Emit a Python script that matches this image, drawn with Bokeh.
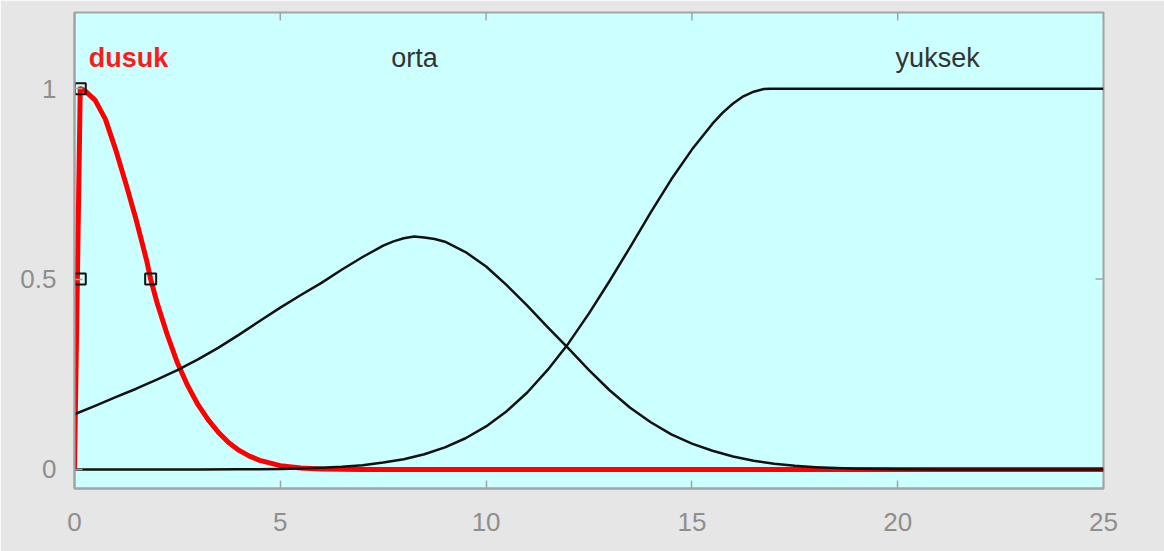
from bokeh.plotting import figure
from bokeh.models import Range1d, LinearAxis, FixedTicker
from bokeh.core.properties import value
from bokeh.embed import file_html
from bokeh.resources import INLINE

# ---- data ----
dusuk_x = [0, 0.14, 0.25, 0.5, 0.75, 1.0, 1.25, 1.5, 1.75, 1.85, 2.0, 2.25, 2.5, 2.75,
           3.0, 3.25, 3.5, 3.75, 4.0, 4.25, 4.5, 5.0, 5.5, 6.0, 7.0, 25]
dusuk_y = [0, 1.0, 0.995, 0.97, 0.92, 0.84, 0.75, 0.655, 0.55, 0.50, 0.44, 0.355, 0.28, 0.22,
           0.17, 0.13, 0.097, 0.07, 0.05, 0.035, 0.024, 0.01, 0.004, 0.0015, 0.0, 0.0]

orta_x = [0, 0.5, 1, 1.5, 2, 2.5, 3, 3.5, 4, 4.5, 5, 5.5, 6, 6.5, 7, 7.5, 7.75, 8, 8.25, 8.5,
          8.75, 9, 9.5, 10, 10.5, 11, 11.5, 12, 12.5, 13, 13.5, 14, 14.5, 15, 15.5, 16, 16.5,
          17, 17.5, 18, 18.5, 19, 19.5, 20, 21, 22, 23, 24, 25]
orta_y = [0.145, 0.167, 0.19, 0.212, 0.236, 0.261, 0.289, 0.32, 0.354, 0.39, 0.425, 0.458,
          0.49, 0.525, 0.558, 0.588, 0.599, 0.607, 0.612, 0.609, 0.605, 0.598, 0.571, 0.533,
          0.484, 0.43, 0.373, 0.318, 0.261, 0.208, 0.162, 0.124, 0.092, 0.068, 0.049, 0.034,
          0.023, 0.015, 0.0095, 0.006, 0.0036, 0.0021, 0.0012, 0.0007, 0.0002, 0.0001,
          0.0, 0.0, 0.0]

yuksek_x = [0, 1, 2, 3, 4, 4.5, 5, 5.5, 6, 6.5, 7, 7.5, 8, 8.5, 9, 9.5, 10, 10.5, 11,
            11.5, 12, 12.5, 13, 13.5, 14, 14.5, 15, 15.5, 15.75, 16, 16.25, 16.5, 16.75,
            16.9, 25]
yuksek_y = [0, 0, 0, 0.0001, 0.0005, 0.0008, 0.0014, 0.0025, 0.0042, 0.007, 0.011, 0.018,
            0.027, 0.04, 0.058, 0.082, 0.113, 0.153, 0.202, 0.262, 0.331, 0.41, 0.495,
            0.584, 0.675, 0.762, 0.84, 0.908, 0.937, 0.961, 0.980, 0.992, 0.999, 1.0, 1.0]

marker_x = [0.14, 0.14, 1.85]
marker_y = [1.0, 0.5, 0.5]

labels = ["dusuk", "orta", "yuksek"]
label_x = [1.31, 8.26, 20.97]
label_y = [1.08, 1.08, 1.08]

x_ticks = [0, 5, 10, 15, 20, 25]
y_ticks = [0, 0.5, 1]
y_tick_labels = ["0", "0.5", "1"]

# ---- figure ----
FONT = "Liberation Sans"
AX = "#A3A3A3"
TXT = "#8E8E8E"
X0, X1, Y0, Y1 = 0, 25, -0.05, 1.2

p = figure(width=1164, height=551, output_backend="svg", toolbar_location=None,
           x_range=Range1d(X0, X1), y_range=Range1d(Y0, Y1),
           x_axis_location=None, y_axis_location=None,
           min_border_left=74, min_border_right=61, min_border_top=12, min_border_bottom=63)
p.background_fill_color = "#CCFFFF"
p.border_fill_color = "#E6E6E6"
p.outline_line_color = AX
p.outline_line_width = 2
p.grid.visible = False


def make_axis(ticks, overrides=None):
    ax = LinearAxis(ticker=FixedTicker(ticks=ticks))
    ax.axis_line_color = AX
    ax.axis_line_width = 2
    ax.major_tick_line_color = AX
    ax.major_tick_line_width = 1.5
    ax.major_tick_in = 8
    ax.major_tick_out = 0
    ax.minor_tick_line_color = None
    ax.major_label_text_font = FONT
    ax.major_label_text_color = TXT
    ax.major_label_text_font_size = "26px"
    if overrides:
        ax.major_label_overrides = overrides
    return ax


bottom = make_axis(x_ticks)
bottom.major_label_standoff = 24
p.add_layout(bottom, "below")

left = make_axis(y_ticks, {t: s for t, s in zip(y_ticks, y_tick_labels)})
left.major_label_standoff = 18
p.add_layout(left, "left")

# inward ticks on the top and right edges (8 px long)
tick_dx = 8 * (X1 - X0) / 1029.0
tick_dy = 8 * (Y1 - Y0) / 476.0
p.segment(x0=x_ticks, y0=[Y1] * len(x_ticks), x1=x_ticks, y1=[Y1 - tick_dy] * len(x_ticks),
          line_color=AX, line_width=1.5)
p.segment(x0=[X1] * len(y_ticks), y0=y_ticks, x1=[X1 - tick_dx] * len(y_ticks), y1=y_ticks,
          line_color=AX, line_width=1.5)

# curves: selected (red) first, black on top
p.line(dusuk_x, dusuk_y, line_color="#FF0000", line_width=5, line_join="round")
p.line(orta_x, orta_y, line_color="#111111", line_width=2.5, line_join="round")
p.line(yuksek_x, yuksek_y, line_color="#111111", line_width=2.5, line_join="round")

p.scatter(marker_x, marker_y, marker="square", size=11, fill_color=None,
          line_color="#111111", line_width=2)

p.text([label_x[0]], [label_y[0]], text=[labels[0]], text_font=value(FONT),
       text_font_size="27px", text_font_style="bold", text_color="#FF1A1A",
       text_align="center", text_baseline="middle")
p.text(label_x[1:], label_y[1:], text=labels[1:], text_font=value(FONT),
       text_font_size="27px", text_color="#333333",
       text_align="center", text_baseline="middle")

open("out.html", "w").write(file_html(p, INLINE))
